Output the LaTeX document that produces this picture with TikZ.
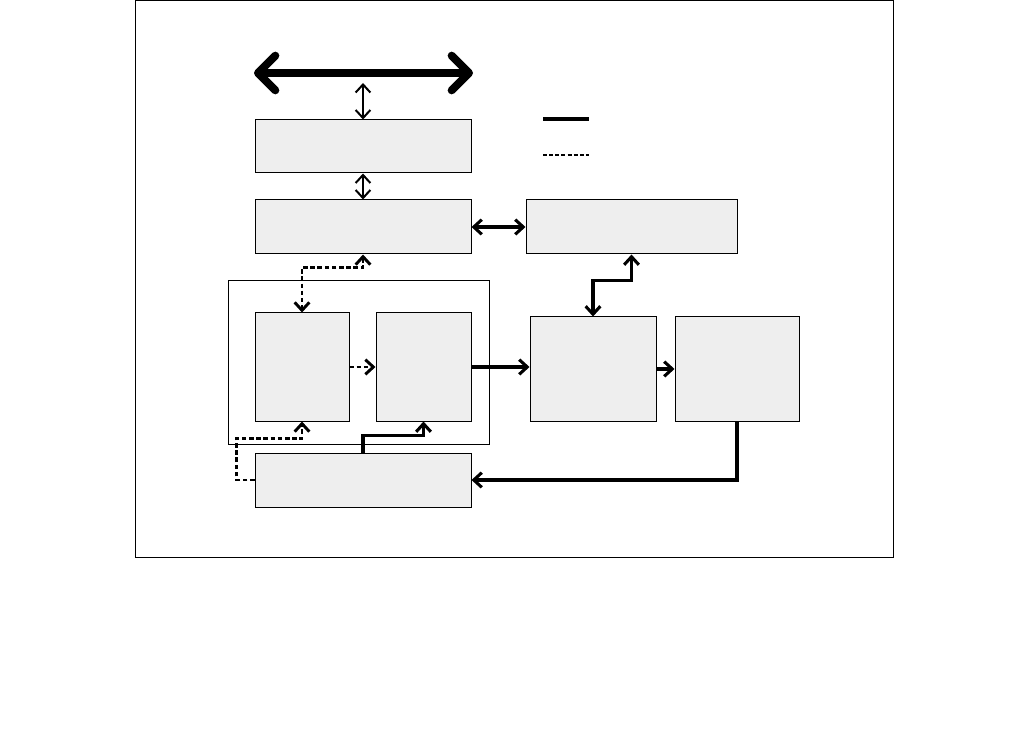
\documentclass[tikz,border=0pt]{standalone}
\usepackage{xcolor}
\usepackage{tikz}
\usetikzlibrary{arrows.meta,positioning,calc}
\definecolor{blkfill}{HTML}{EEEEEE}

\begin{document}
\begin{tikzpicture}[x=0.75pt, y=-0.75pt,
  >={Straight Barb[length=6pt,width=11pt]},
  blk/.style={draw, line width=0.75pt, fill=blkfill, inner sep=0pt},
  thin link/.style={line width=1.5pt},
  bold link/.style={line width=2.3pt},
  dash link/.style={line width=2.2pt, dash pattern=on 3.4pt off 2pt}]
  \useasboundingbox (0,0) rectangle (1026,731);
  \draw[line width=0.75pt] (135,0.5) rectangle (893,557);

  % system bus
  \coordinate (busl) at (254,73);
  \coordinate (busr) at (473,73);
  \coordinate (tap) at (363,83);
  \draw[line width=6pt, line cap=round,
    {Straight Barb[round,length=13pt,width=26pt]}-{Straight Barb[round,length=13pt,width=26pt]}] (busl)--(busr);

  % legend
  \draw[line width=2.4pt] (543,119)--(589,119);
  \draw[line width=2pt, dash pattern=on 3pt off 1.6pt] (543,155)--(589,155);

  % blocks
  \node[blk, minimum width=162pt, minimum height=39.75pt](bif) at (363,146.5){};
  \node[blk, minimum width=162pt, minimum height=40.5pt](ctl) at (363,227){};
  \node[blk, minimum width=158.25pt, minimum height=40.5pt](mem) at (631.5,227){};
  \draw[line width=0.75pt] (228,281) rectangle (489,444);
  \node[blk, minimum width=70.5pt, minimum height=81pt](seq) at (302,367){};
  \node[blk, minimum width=71.25pt, minimum height=81pt](gen) at (423.5,367){};
  \node[blk, minimum width=94.5pt, minimum height=78pt](dac) at (593,369){};
  \node[blk, minimum width=93pt, minimum height=78pt](out) at (737,369){};
  \node[blk, minimum width=162pt, minimum height=40.5pt](clk) at (363,480){};

  % connectors
  \foreach \a/\b in {tap/bif.north,bif.south/ctl.north}{\draw[thin link,<->](\a)--(\b);}
  \draw[bold link,<->](ctl.east)--(mem.west);
  \draw[bold link,<->](dac.north)--++(0,-36)-|(mem.south);
  \draw[dash link,<->](ctl.south)--++(0,13)-|(seq.north);
  \draw[dash link,->](seq.east)--(gen.west);
  \draw[bold link,->](gen.east)--(gen.east-|dac.west);
  \draw[bold link,->](dac.east)--(out.west);
  \draw[bold link,->](out.south)|-(clk.east);
  \draw[bold link,->](clk.north)--++(0,-17)-|(gen.south);
  \draw[dash link,->](clk.west)--++(-18,0)|-($(seq.south)+(0,17)$)--(seq.south);
\end{tikzpicture}
\end{document}
